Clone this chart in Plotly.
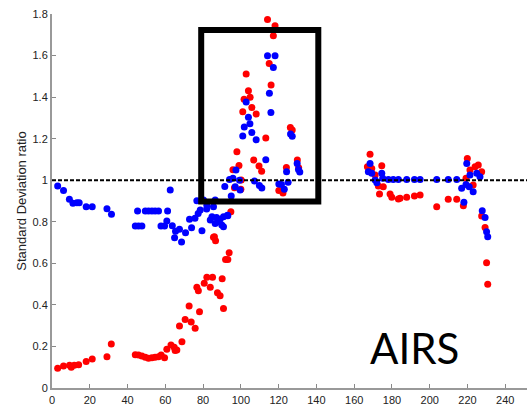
import plotly.graph_objects as go

# Channel index vs standard deviation ratio
blue_x = [3.0, 6.1, 9.2, 11.1, 13.2, 14.4, 18.1, 21.3, 29.1, 31.5,
          44.1, 45.8, 47.6, 45.3, 49.4, 51.1, 52.9, 54.6, 56.4, 57.7, 59.6, 61.2, 62.6,
          60.8, 63.7, 65.4, 67.5, 64.9, 68.6, 70.7, 73.9, 72.8, 75.7, 77.4, 76.7,
          80.2, 82.0, 86.4, 85.5, 78.5, 81.9, 83.8, 84.7, 88.1, 89.0, 90.8, 92.9, 89.9,
          90.8, 86.4, 79.4, 87.1, 93.1,
          91.5, 94.9, 94.0, 95.8, 97.4, 99.3, 99.6, 97.0, 107.2, 109.8, 111.1, 113.2,
          120.1, 121.5, 123.0, 125.0, 124.2, 129.8, 130.5, 131.2, 126.3, 127.2,
          101.0, 101.8, 104.0, 104.8, 105.8, 108.1, 102.8, 115.9, 115.1, 117.2, 114.1, 118.1,
          167.5, 168.4, 169.3, 171.1, 172.0, 174.6, 175.1, 178.1, 180.7, 183.4, 187.8,
          191.9, 194.9, 203.7, 209.8, 214.3, 216.9, 218.1, 219.2, 219.6, 220.9, 221.3,
          223.0, 224.9, 226.6, 227.8, 229.3, 230.1, 230.7]
blue_y = [0.972, 0.950, 0.908, 0.889, 0.892, 0.892, 0.872, 0.872, 0.863, 0.836,
          0.780, 0.780, 0.780, 0.852, 0.852, 0.852, 0.852, 0.852, 0.852, 0.780, 0.780, 0.852, 0.953,
          0.804, 0.781, 0.755, 0.764, 0.723, 0.703, 0.747, 0.771, 0.812, 0.817, 0.840, 0.901,
          0.905, 0.880, 0.905, 0.872, 0.857, 0.861, 0.808, 0.824, 0.800, 0.812, 0.824, 0.832, 0.784,
          0.776, 0.792, 0.757, 0.821, 0.829,
          0.970, 0.924, 1.004, 1.009, 1.049, 1.000, 0.953, 0.969, 0.996, 0.975, 0.962, 1.098,
          0.982, 0.980, 0.957, 0.990, 1.041, 1.081, 1.052, 1.040, 1.222, 1.212,
          1.213, 1.256, 1.303, 1.272, 1.230, 1.195, 1.377, 1.326, 1.418, 1.543, 1.599, 1.599,
          1.041, 1.081, 1.033, 1.001, 0.988, 1.033, 1.009, 1.003, 1.003, 1.003, 1.003,
          1.003, 1.003, 1.003, 1.003, 1.003, 0.961, 0.894, 0.980, 1.081, 0.969, 1.025,
          0.945, 1.033, 1.017, 0.853, 0.820, 0.752, 0.728]

red_x = [3.0, 6.1, 9.3, 10.2, 11.8, 14.1, 18.1, 21.3, 29.1, 31.4,
         44.1, 45.8, 47.6, 49.4, 51.1, 52.9, 54.6, 56.4, 57.8, 59.6, 60.8, 63.0, 64.7,
         66.1, 65.2, 68.8, 67.5, 70.5, 72.6, 73.7, 75.8, 76.7, 78.1, 77.5, 80.6, 82.0,
         85.0, 83.8, 87.6, 89.0, 90.1, 90.8, 86.0, 85.5, 86.6, 91.9, 93.1, 93.8, 94.7,
         96.6, 100.0, 100.2, 95.8, 99.0, 97.9, 101.0, 101.7, 102.8, 104.0, 104.9, 105.8,
         108.1, 106.8, 109.6, 111.0, 113.2, 114.1, 118.1, 117.2, 115.0, 116.0, 120.1,
         122.3, 124.1, 126.2, 127.2, 129.9, 130.6,
         167.0, 168.4, 169.3, 171.1, 172.8, 173.4, 174.6, 175.4, 179.0, 179.9, 183.4,
         184.3, 187.8, 191.9, 194.9, 203.7, 209.8, 214.3, 217.8, 219.2, 219.9, 221.3,
         223.0, 224.0, 225.7, 227.5, 227.5, 229.3, 230.1, 230.7]
red_y = [0.095, 0.106, 0.109, 0.100, 0.109, 0.112, 0.127, 0.140, 0.151, 0.212,
         0.160, 0.159, 0.154, 0.148, 0.143, 0.146, 0.148, 0.151, 0.159, 0.146, 0.186, 0.207, 0.196,
         0.183, 0.180, 0.223, 0.298, 0.330, 0.395, 0.318, 0.287, 0.485, 0.367, 0.468, 0.504, 0.533,
         0.533, 0.485, 0.459, 0.444, 0.526, 0.383, 0.728, 0.725, 0.709, 0.619, 0.619, 0.651, 0.848,
         0.964, 0.956, 1.001, 1.050, 1.071, 1.137, 1.330, 1.390, 1.511, 1.431, 1.399, 1.350,
         1.319, 1.097, 1.069, 1.043, 1.203, 1.774, 1.743, 1.695, 1.562, 1.458, 0.950,
         0.938, 1.061, 1.254, 1.242, 1.097, 1.060,
         1.065, 1.125, 1.057, 1.025, 0.972, 0.934, 1.070, 0.969, 0.934, 0.918, 0.910,
         0.913, 0.918, 0.924, 0.929, 0.872, 0.908, 0.908, 0.877, 1.009, 1.105, 1.049,
         0.977, 1.065, 1.073, 1.041, 0.828, 0.773, 0.603, 0.499]

x_ticks = [0, 20, 40, 60, 80, 100, 120, 140, 160, 180, 200, 220, 240]
y_ticks = [0, 0.2, 0.4, 0.6, 0.8, 1.0, 1.2, 1.4, 1.6, 1.8]
y_tick_labels = ["0", "0.2", "0.4", "0.6", "0.8", "1", "1.2", "1.4", "1.6", "1.8"]

box_x = [79, 141]
box_y = [0.898, 1.723]
ref_level = 1.0

fig = go.Figure()
fig.add_trace(go.Scatter(x=red_x, y=red_y, mode="markers",
                         marker=dict(color="#ff0000", size=7, line=dict(width=0)),
                         showlegend=False))
fig.add_trace(go.Scatter(x=blue_x, y=blue_y, mode="markers",
                         marker=dict(color="#0000ff", size=7, line=dict(width=0)),
                         showlegend=False))

fig.add_shape(type="line", xref="paper", yref="y", x0=0, x1=1, y0=ref_level, y1=ref_level,
              line=dict(color="black", width=2, dash="4px,2px"))
fig.add_shape(type="rect", xref="x", yref="y", x0=box_x[0], x1=box_x[1], y0=box_y[0], y1=box_y[1],
              line=dict(color="black", width=6))

fig.add_annotation(x=(414 - 52) / 475, y=(388 - 348) / 374, xref="paper", yref="paper",
                   text="AIRS", showarrow=False, xanchor="center", yanchor="middle",
                   font=dict(family="Lato", size=42, color="black"))

tick_font = dict(family="Liberation Sans, Arial", size=11, color="#222222")
fig.update_layout(
    width=527, height=406,
    margin=dict(l=52, r=0, t=14, b=18, autoexpand=False),
    paper_bgcolor="white", plot_bgcolor="white",
    xaxis=dict(range=[0, 251.5], tickvals=x_ticks, ticks="inside", ticklen=4, tickcolor="#888888",
               showline=True, linecolor="#999999", linewidth=2, showgrid=False, zeroline=False,
               tickfont=tick_font, ticklabelstandoff=1, automargin=False),
    yaxis=dict(range=[0, 1.8], tickvals=y_ticks, ticktext=y_tick_labels, ticks="inside", ticklen=4,
               tickcolor="#888888", showline=True, linecolor="#999999", linewidth=2,
               showgrid=False, zeroline=False, tickfont=tick_font,
               title=dict(text="Standard Deviation ratio", standoff=3,
                          font=dict(family="Liberation Sans, Arial", size=13, color="#222222"))),
)

fig.write_html("out.html")
